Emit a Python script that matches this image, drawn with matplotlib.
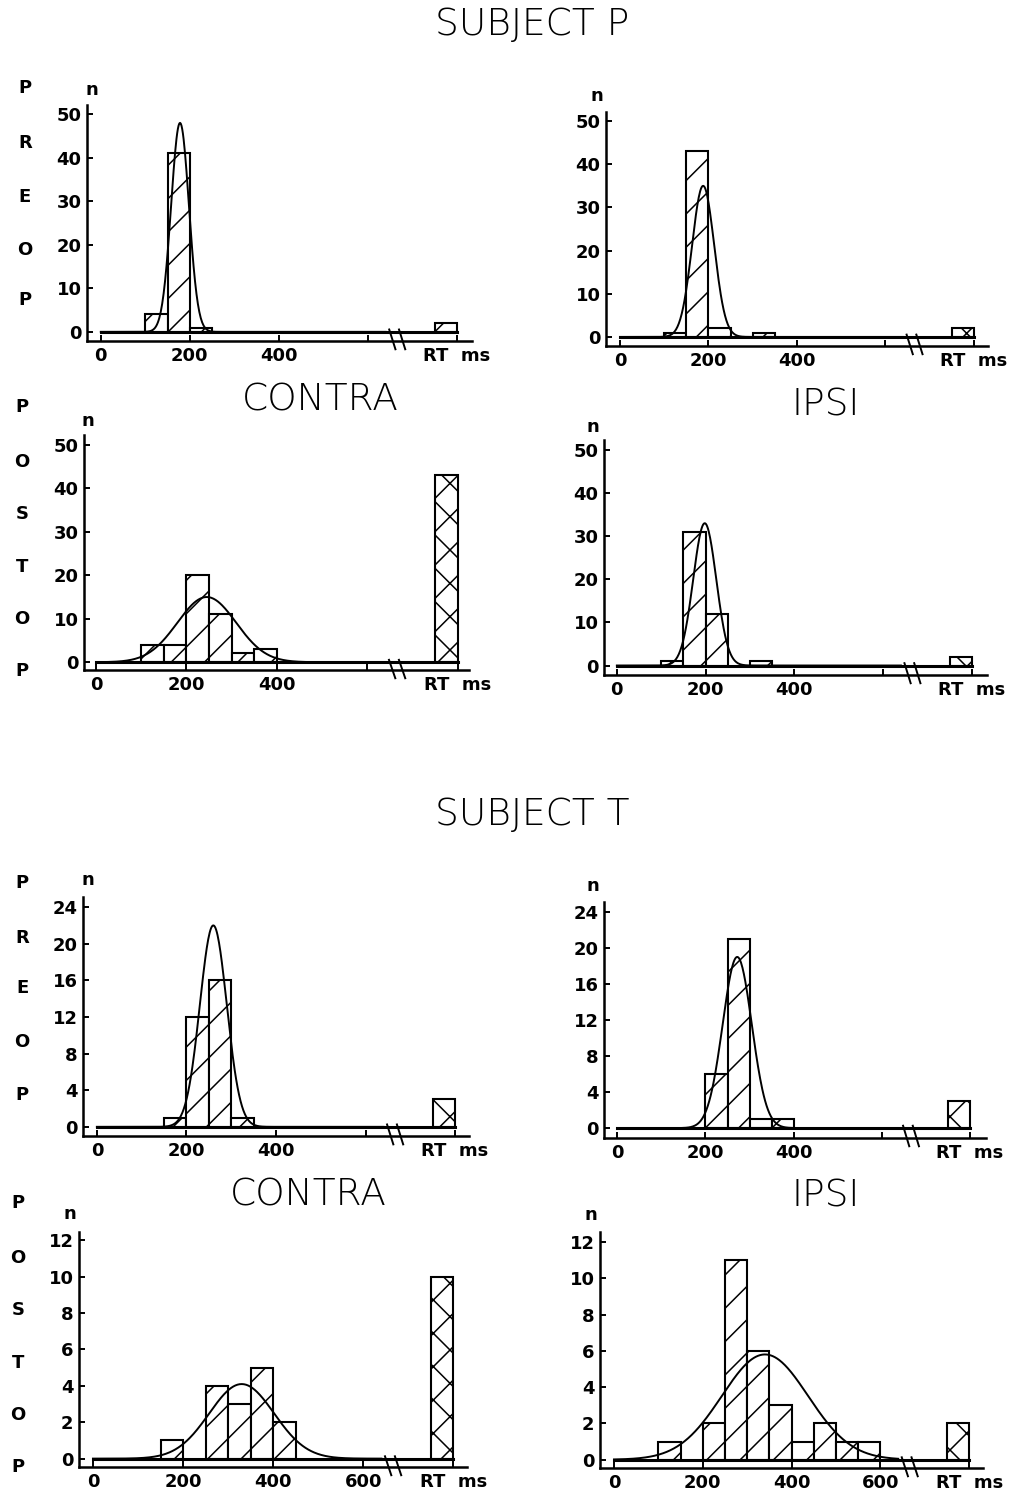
import numpy as np
import matplotlib.pyplot as plt

# reaction time histograms, 50 ms bins (left edges)
bin_left = [100, 150, 200, 250, 300, 350, 400, 450, 500, 550]
rt_bin = 750  # the "RT" column = no response

# subject P
p_pre_contra = [4, 41, 1, 0, 0, 0, 0, 0, 0, 0]
p_pre_ipsi = [1, 43, 2, 0, 1, 0, 0, 0, 0, 0]
p_post_contra = [4, 4, 20, 11, 2, 3, 0, 0, 0, 0]
p_post_ipsi = [1, 31, 12, 0, 1, 0, 0, 0, 0, 0]
# subject T
t_pre_contra = [0, 1, 12, 16, 1, 0, 0, 0, 0, 0]
t_pre_ipsi = [0, 0, 6, 21, 1, 1, 0, 0, 0, 0]
t_post_contra = [0, 1, 0, 4, 3, 5, 2, 0, 0, 0]
t_post_ipsi = [1, 0, 2, 11, 6, 3, 1, 2, 1, 1]

# RT column, same panel order as above
rt_counts = [2, 2, 43, 2, 3, 3, 10, 2]

# normal fits (mean ms, sd ms, height n)
fit_mean = [178, 188, 245, 198, 260, 272, 330, 340]
fit_sd = [20, 25, 65, 26, 30, 33, 72, 97]
fit_peak = [48, 35, 15, 33, 22, 19, 4.1, 5.8]

y_ticks_p = [0, 10, 20, 30, 40, 50]
y_ticks_t_pre = [0, 4, 8, 12, 16, 20, 24]
y_ticks_t_post = [0, 2, 4, 6, 8, 10, 12]
x_ticks = [0, 200, 400, 600, 800]
x_labels_short = ['0', '200', '400', '', 'RT  ms']
x_labels_long = ['0', '200', '400', '600', 'RT  ms']

W, H = 1015, 1493
DPI = 200  # high dpi so the hatch spacing comes out sparse like the original
plt.rcParams['hatch.linewidth'] = 0.55
plt.rcParams['hatch.color'] = 'black'

fig = plt.figure(figsize=(W / DPI, H / DPI), dpi=DPI)
fig.patch.set_facecolor('white')


def fx(x):
    return x / W


def fy(y):
    return 1 - y / H


def panel(k, counts, box, xlim, ylim, yticks, xlabels):
    x0, x1, y0, y1 = box
    ax = fig.add_axes([fx(x0), fy(y1), (x1 - x0) / W, (y1 - y0) / H])
    ax.set_xlim(xlim)
    ax.set_ylim(ylim)

    lefts = [b for b, c in zip(bin_left, counts) if c > 0]
    heights = [c for c in counts if c > 0]
    ax.bar(lefts, heights, width=50, align='edge', facecolor='white',
           edgecolor='black', linewidth=0.75, hatch='//', zorder=2)
    ax.bar([rt_bin], [rt_counts[k]], width=50, align='edge', facecolor='white',
           edgecolor='black', linewidth=0.75, hatch='xx', zorder=2)

    # baseline and fitted normal curve
    ax.plot([0, 800], [0, 0], color='black', lw=1.1, zorder=3)
    xs = np.linspace(0, 640, 400)
    ys = fit_peak[k] * np.exp(-0.5 * ((xs - fit_mean[k]) / fit_sd[k]) ** 2)
    ax.plot(xs, ys, color='black', lw=0.7, zorder=4)

    # axis break marks
    base = (0 - ylim[0]) / (ylim[1] - ylim[0])
    tr = ax.get_xaxis_transform()
    for xb in (648, 670):
        ax.plot([xb, xb + 14], [base + 0.01, -0.035], transform=tr,
                color='black', lw=0.7, clip_on=False, zorder=5)

    for side in ('top', 'right'):
        ax.spines[side].set_visible(False)
    for side in ('left', 'bottom'):
        ax.spines[side].set_linewidth(0.9)

    ax.set_xticks(x_ticks)
    ax.set_xticklabels(xlabels)
    ax.set_yticks(yticks)
    ax.tick_params(direction='in', length=2.2, width=0.7, pad=2,
                   labelsize=6.5)
    for lab in ax.get_xticklabels() + ax.get_yticklabels():
        lab.set_fontweight('bold')
    return ax


panel(0, p_pre_contra, (87, 472, 105, 341), (-31, 834), (-2.1, 52.1), y_ticks_p, x_labels_short)
panel(1, p_pre_ipsi, (606, 988, 112, 346), (-31.6, 832), (-2.1, 52.1), y_ticks_p, x_labels_short)
panel(2, p_post_contra, (84, 469, 435, 670), (-26.5, 825), (-1.8, 52.3), y_ticks_p, x_labels_short)
panel(3, p_post_ipsi, (604, 987, 440, 675), (-29, 834), (-2.2, 52.3), y_ticks_p, x_labels_short)
panel(4, t_pre_contra, (83, 469, 897, 1136), (-31, 831), (-1.0, 25.1), y_ticks_t_pre, x_labels_short)
panel(5, t_pre_ipsi, (604, 986, 902, 1138), (-30, 836), (-1.1, 25.1), y_ticks_t_pre, x_labels_short)
panel(6, t_post_contra, (79, 467, 1232, 1467), (-31, 830), (-0.46, 12.46), y_ticks_t_post, x_labels_long)
panel(7, t_post_ipsi, (600, 983, 1232, 1468), (-31.5, 831), (-0.46, 12.55), y_ticks_t_post, x_labels_long)

# titles
title_kw = dict(ha='center', va='center', fontsize=13.5, fontweight='light')
fig.text(fx(532), fy(25), 'SUBJECT P', **title_kw)
fig.text(fx(532), fy(815), 'SUBJECT T', **title_kw)
fig.text(fx(320), fy(400), 'CONTRA', **title_kw)
fig.text(fx(826), fy(405), 'IPSI', **title_kw)
fig.text(fx(308), fy(1195), 'CONTRA', **title_kw)
fig.text(fx(826), fy(1196), 'IPSI', **title_kw)

# "n" over each y axis
small_kw = dict(ha='center', va='center', fontsize=6.5, fontweight='bold')
for x, y in [(92, 90), (597, 96), (88, 421), (593, 427),
             (88, 880), (593, 886), (70, 1214), (591, 1215)]:
    fig.text(fx(x), fy(y), 'n', **small_kw)

# vertical PREOP / POSTOP letters down the left margin
rows = [('PREOP', 25, [88, 143, 197, 250, 300]),
        ('POSTOP', 22, [407, 462, 514, 567, 619, 671]),
        ('PREOP', 22, [883, 938, 988, 1042, 1095]),
        ('POSTOP', 18, [1203, 1258, 1310, 1363, 1415, 1467])]
for word, x, ys in rows:
    for ch, y in zip(word, ys):
        fig.text(fx(x), fy(y), ch, **small_kw)

fig.savefig('out.png', dpi=DPI, facecolor='white')
